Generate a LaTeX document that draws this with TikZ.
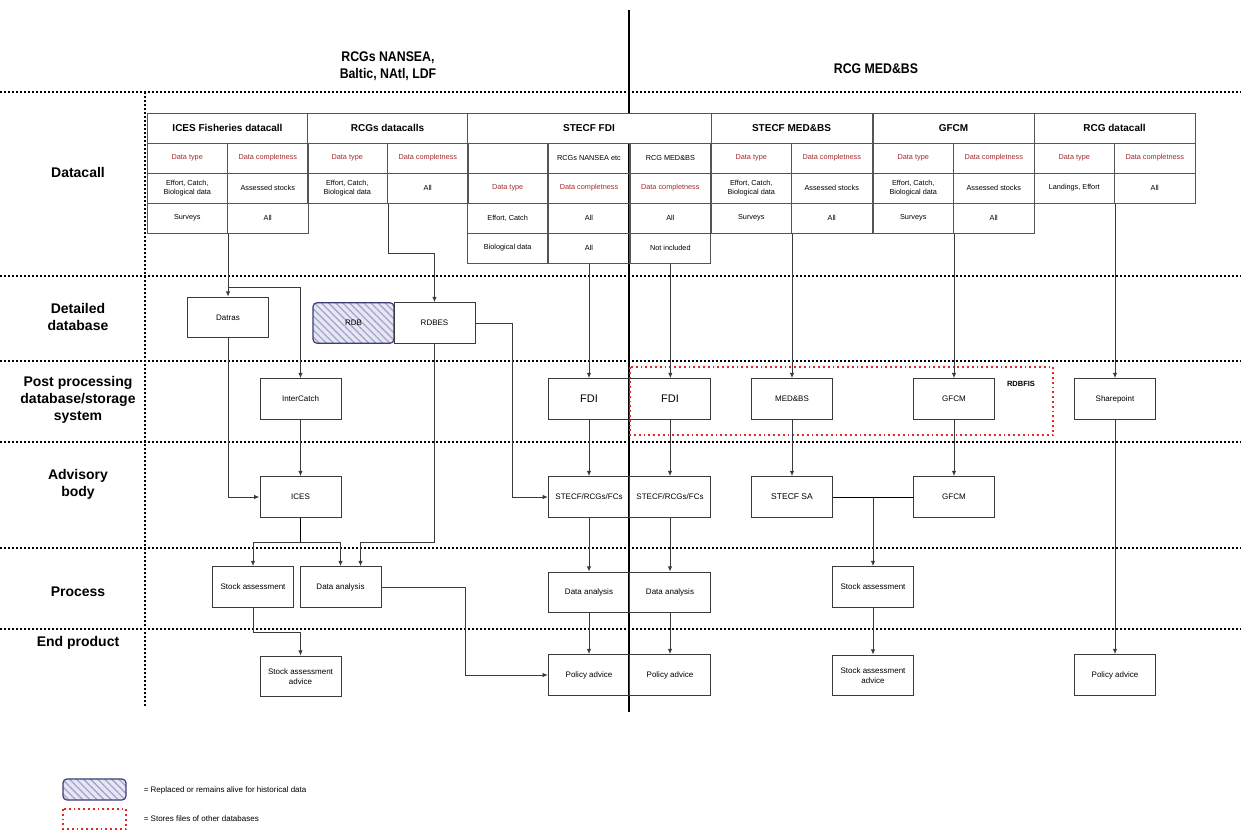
\documentclass[tikz,border=0pt]{standalone}
\usepackage{fontspec}
\setmainfont{Liberation Sans}
\newfontfamily\titlefont[FakeStretch=0.88]{Liberation Sans}
\usetikzlibrary{arrows.meta,patterns.meta}

\definecolor{gridline}{HTML}{4E565E}
\definecolor{boxline}{HTML}{3A3A3A}
\definecolor{typered}{HTML}{A3282C}
\definecolor{rdbfill}{HTML}{E6E6F4}
\definecolor{rdbhatch}{HTML}{A4A4CC}
\definecolor{rdbline}{HTML}{3C3C78}
\definecolor{rdbfisred}{HTML}{E02828}

\tikzset{
  cell/.style={draw=gridline, minimum width=80.5pt, minimum height=30pt, inner sep=1pt,
    align=center, font=\fontsize{7.3}{8.6}\selectfont},
  redcell/.style={cell, text=typered},
  headcell/.style={cell, fill=white, minimum width=161pt, font=\bfseries\fontsize{10}{12}\selectfont},
  box/.style={draw=boxline, minimum width=81pt, minimum height=40.5pt, inner sep=2pt,
    align=center, font=\fontsize{8}{9.6}\selectfont},
  oldbox/.style={box, draw=rdbline, line width=1.2pt, rounded corners=4pt,
    preaction={fill=rdbfill}, pattern={Lines[angle=-45,distance=5pt,line width=1.3pt]},
    pattern color=rdbhatch},
  rowlabel/.style={align=center, font=\bfseries\fontsize{14}{17}\selectfont},
  arr/.style={draw=boxline, -{Latex[length=5.5pt,width=4.5pt]}},
  sep/.style={line width=1.6pt, dash pattern=on 1.6pt off 2.4pt},
  rdbfis/.style={draw=rdbfisred, line width=1.8pt, dash pattern=on 1.8pt off 3pt},
  legend/.style={anchor=west, font=\fontsize{8}{9.6}\selectfont},
}

\begin{document}
\begin{tikzpicture}[x=1pt, y=-1pt, line width=1pt]
\useasboundingbox (0,0) rectangle (1241,830);

%% row separators
\foreach \y in {92,276,361,442,548,629}
  \draw[sep] (0,\y) -- (1241,\y);
\draw[sep] (145,92) -- (145,706);

%% regional split
\draw[line width=1.4pt] (629,10) -- (629,712);

%% headings
\node[font=\titlefont\bfseries\fontsize{14}{17}\selectfont, align=center] (northgroups) at (388,66) {RCGs NANSEA,\\Baltic, NAtl, LDF};
\node[font=\titlefont\bfseries\fontsize{14}{17}\selectfont] (medgroup) at (876,69) {RCG MED\&BS};

\node[rowlabel] (lbldatacall) at (78,172) {Datacall};
\node[rowlabel] (lbldetailed) at (78,317) {Detailed\\database};
\node[rowlabel] (lblpost) at (78,400) {Post processing\\database/storage\\system};
\node[rowlabel] (lbladvisory) at (78,484) {Advisory\\body};
\node[rowlabel] (lblprocess) at (78,592) {Process};
\node[rowlabel] (lblend) at (78,643) {End product};

%% datacall tables with the same layout
\foreach \x/\t/\n in {147/ICES Fisheries datacall/ices, 711/STECF MED\&BS/medbs, 873/GFCM/gfcm}
  {
  \node[headcell] (\n-h) at (\x+80.5,128) {\t};
  \node[redcell] (\n-11) at (\x+40.25,158) {Data type};
  \node[redcell] (\n-12) at (\x+120.75,158) {Data completness};
  \node[cell] (\n-21) at (\x+40.25,188) {Effort, Catch,\\Biological data};
  \node[cell] (\n-22) at (\x+120.75,188) {Assessed stocks};
  \node[cell] (\n-31) at (\x+40.25,218) {Surveys};
  \node[cell] (\n-32) at (\x+120.75,218) {All};
  }

% RCGs datacalls
\node[headcell] (rcgs-h) at (387.5,128) {RCGs datacalls};
\node[redcell] (rcgs-11) at (347.25,158) {Data type};
\node[redcell] (rcgs-12) at (427.75,158) {Data completness};
\node[cell] (rcgs-21) at (347.25,188) {Effort, Catch,\\Biological data};
\node[cell] (rcgs-22) at (427.75,188) {All};

% RCG datacall
\node[headcell] (rcgd-h) at (1114.5,128) {RCG datacall};
\node[redcell] (rcgd-11) at (1074.25,158) {Data type};
\node[redcell] (rcgd-12) at (1154.75,158) {Data completness};
\node[cell] (rcgd-21) at (1074.25,188) {Landings, Effort};
\node[cell] (rcgd-22) at (1154.75,188) {All};

% STECF FDI, three columns
\begin{scope}[every node/.append style={minimum width=81.33pt}]
\node[headcell, minimum width=244pt] (fdi-h) at (589,128) {STECF FDI};
\node[cell] (fdi-11) at (507.67,158) {};
\node[cell] (fdi-12) at (589,158) {RCGs NANSEA etc};
\node[cell] (fdi-13) at (670.33,158) {RCG MED\&BS};
\node[redcell] (fdi-21) at (507.67,188) {Data type};
\node[redcell] (fdi-22) at (589,188) {Data completness};
\node[redcell] (fdi-23) at (670.33,188) {Data completness};
\node[cell] (fdi-31) at (507.67,218) {Effort, Catch};
\node[cell] (fdi-32) at (589,218) {All};
\node[cell] (fdi-33) at (670.33,218) {All};
\node[cell] (fdi-41) at (507.67,248) {Biological data};
\node[cell] (fdi-42) at (589,248) {All};
\node[cell] (fdi-43) at (670.33,248) {Not included};
\end{scope}

%% detailed databases
\node[box] (datras) at (228,317.5) {Datras};
\node[oldbox] (rdb) at (353.5,323) {RDB};
\node[box] (rdbes) at (434.5,323) {RDBES};

%% post processing
\node[box] (intercatch) at (300.5,399) {InterCatch};
\node[box, font=\fontsize{11}{13}\selectfont] (fdiA) at (589,399) {FDI};
\node[box, font=\fontsize{11}{13}\selectfont] (fdiB) at (670,399) {FDI};
\node[box] (medbsP) at (792,399) {MED\&BS};
\node[box] (gfcmP) at (954,399) {GFCM};
\node[box] (sharepoint) at (1115,399) {Sharepoint};
\draw[rdbfis] (630,367) rectangle (1053,435);
\node[font=\bfseries\fontsize{7.5}{9}\selectfont] (rdbfislbl) at (1021,384) {RDBFIS};

%% advisory bodies
\node[box] (ices) at (300.5,497) {ICES};
\node[box] (stecfA) at (589,497) {STECF/RCGs/FCs};
\node[box] (stecfB) at (670,497) {STECF/RCGs/FCs};
\node[box, font=\fontsize{8.5}{10}\selectfont] (stecfsa) at (792,497) {STECF SA};
\node[box] (gfcmA) at (954,497) {GFCM};

%% process
\node[box] (stockA) at (253,587) {Stock assessment};
\node[box] (anaA) at (340.5,587) {Data analysis};
\node[box] (anaB) at (589,592.5) {Data analysis};
\node[box] (anaC) at (670,592.5) {Data analysis};
\node[box] (stockB) at (873,587) {Stock assessment};

%% end products
\node[box] (adviceA) at (300.5,676.5) {Stock assessment\\advice};
\node[box] (policyA) at (589,675) {Policy advice};
\node[box] (policyB) at (670,675) {Policy advice};
\node[box] (adviceB) at (873,675.5) {Stock assessment\\advice};
\node[box] (policyC) at (1115,675) {Policy advice};

%% connectors, ICES side
\coordinate (icesfork) at (228,287);
\draw[arr] (ices-31.south east) -- (ices-31.south east |- datras.north);
\draw[arr] (icesfork) -| (intercatch.north);
\draw[arr] (rcgs-21.south east) -- ++(0,50) -| (rdbes.north);
\draw[arr] (datras.south) |- (ices.west);
\draw[arr] (intercatch.south) -- (ices.north);
\draw (ices.south) -- ++(0,25) coordinate (icessplit);
\draw[arr] (icessplit) -| (stockA.north);
\draw[arr] (icessplit) -| (anaA.north);
\draw[arr] (rdbes.south) -- (rdbes.south |- icessplit) -| ([xshift=20pt]anaA.north);
\draw[arr] (rdbes.east) -- ++(37,0) |- (stecfA.west);
\draw[arr] (stockA.south) -- ++(0,25) -| (adviceA.north);
\draw[arr] (anaA.east) -- ++(84,0) |- (policyA.west);

%% connectors, STECF FDI
\draw[arr] (fdi-42.south) -- (fdi-42.south |- fdiA.north);
\draw[arr] (fdi-43.south) -- (fdi-43.south |- fdiB.north);
\foreach \a/\b in {fdiA/stecfA, stecfA/anaB, anaB/policyA, fdiB/stecfB, stecfB/anaC, anaC/policyB}
  \draw[arr] (\a.south) -- (\b.north);

%% connectors, MED&BS side
\draw[arr] (medbs-31.south east) -- (medbs-31.south east |- medbsP.north);
\draw[arr] (medbsP.south) -- (stecfsa.north);
\draw[arr] (gfcm-31.south east) -- (gfcm-31.south east |- gfcmP.north);
\draw[arr] (gfcmP.south) -- (gfcmA.north);
\draw (stecfsa.east) -- (gfcmA.west);
\draw[arr] (stecfsa.east -| stockB.north) -- (stockB.north);
\draw[arr] (stockB.south) -- (adviceB.north);
\draw[arr] (rcgd-21.south east) -- (rcgd-21.south east |- sharepoint.north);
\draw[arr] (sharepoint.south) -- (policyC.north);

%% legend
\draw[oldbox] (63,779) rectangle (126,800);
\node[legend] (legold) at (140,790) {= Replaced or remains alive for historical data};
\draw[rdbfis] (63,809) rectangle (126,829);
\node[legend] (legfiles) at (140,819) {= Stores files of other databases};

\end{tikzpicture}
\end{document}
